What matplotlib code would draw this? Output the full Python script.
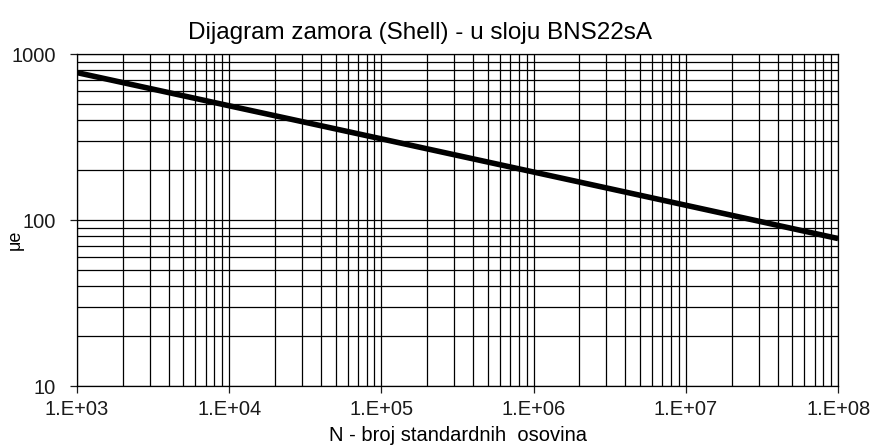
import math
import matplotlib.pyplot as plt
from matplotlib.ticker import FixedLocator, FuncFormatter, LogLocator, NullFormatter

plt.rcParams['font.family'] = ['Liberation Sans', 'DejaVu Sans']

# Fatigue line (one point per decade)
n_axles = [1e3, 1e4, 1e5, 1e6, 1e7, 1e8]
strain = [775, 489, 309, 195, 123, 77.5]

x_ticks = [1e3, 1e4, 1e5, 1e6, 1e7, 1e8]
y_ticks = [10, 100, 1000]

fig = plt.figure(figsize=(8.74, 4.48), dpi=100, facecolor='white')
ax = fig.add_axes([0.088, 0.138, 0.871, 0.741])

ax.plot(n_axles, strain, color='black', linewidth=4, solid_capstyle='butt', zorder=3)

ax.set_xscale('log')
ax.set_yscale('log')
ax.set_xlim(1e3, 1e8)
ax.set_ylim(10, 1000)

ax.xaxis.set_major_locator(FixedLocator(x_ticks))
ax.xaxis.set_major_formatter(FuncFormatter(lambda v, p: '1.E+%02d' % round(math.log10(v))))
ax.xaxis.set_minor_locator(LogLocator(base=10, subs=range(2, 10)))
ax.xaxis.set_minor_formatter(NullFormatter())
ax.yaxis.set_major_locator(FixedLocator(y_ticks))
ax.yaxis.set_major_formatter(FuncFormatter(lambda v, p: '%d' % v))
ax.yaxis.set_minor_locator(LogLocator(base=10, subs=range(2, 10)))
ax.yaxis.set_minor_formatter(NullFormatter())

ax.grid(True, which='both', color='black', linewidth=0.9)
ax.tick_params(which='major', length=5, width=0.9, labelsize=14.5, colors='#1a1a1a')
ax.tick_params(axis='y', pad=10)
ax.tick_params(axis='x', pad=5)
ax.tick_params(which='minor', length=0)
for s in ax.spines.values():
    s.set_color('black')
    s.set_linewidth(0.9)

# title sits a bit left of the plot centre in the original
ax.set_title('Dijagram zamora (Shell) - u sloju BNS22sA', fontsize=17.5, x=0.451, pad=11)
ax.set_xlabel('N - broj standardnih  osovina', fontsize=14.5, labelpad=5)
ax.set_ylabel('μe', fontsize=13)
ax.yaxis.set_label_coords(-0.07, 0.44)

fig.savefig('out.png', dpi=100)
